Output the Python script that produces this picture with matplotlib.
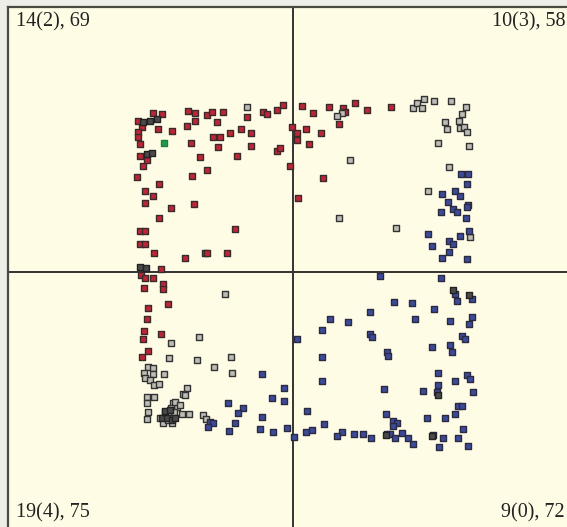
import matplotlib
matplotlib.use("Agg")
import matplotlib.pyplot as plt

W, H = 567, 527

# crosshair position (chart scale)
x_mid, y_mid = 293, 272

red_x = [188,195,207,212,223,263,267,277,283,153,162,138,142,158,172,187,195,217,247,138,138,140,191,213,220,230,241,251,251,218,277,280,292,297,297,140,147,143,200,237,207,192,290,137,159,145,153,145,194,171,159,298,235,140,145,140,145,154,185,205,207,227,161,
         302,313,329,343,345,355,367,391,306,321,339,309,323,
         141,145,153,144,163,163,148,168,147,144,143,161,148,142]
red_y = [111,113,115,112,112,112,114,110,105,113,114,121,127,129,131,126,121,122,117,132,137,144,143,137,137,133,129,133,146,147,151,148,127,133,140,156,160,166,157,156,170,176,166,177,184,191,196,203,204,208,218,198,229,231,231,244,244,253,258,253,253,253,269,
         106,113,107,108,112,103,110,107,129,133,124,144,178,
         275,278,278,288,284,289,308,304,319,331,339,334,351,357]

grey_x = [247,342,337,413,417,422,424,434,451,466,462,445,447,459,460,464,467,438,469,350,339,396,449,428,470,
          225,171,199,169,197,231,214,232,148,153,164,144,153,145,150,154,159,187,183,185,147,154,147,148,147,173,177,171,165,169,174,182,189,160,163,172,168,203,206,175,180]
grey_y = [107,113,116,108,103,108,99,101,101,107,114,122,129,121,128,127,132,143,146,160,218,228,167,191,237,
          294,343,337,358,360,357,367,373,367,368,374,373,374,378,380,385,384,388,394,395,397,397,403,412,419,403,407,408,412,414,412,414,414,418,423,423,420,415,419,402,405]

dark_x = [143,150,157,147,152,140,146,162,167,172,175,165,170,469,453,438,432,386]
dark_y = [122,121,119,154,153,267,268,418,418,420,418,411,410,295,290,395,436,435]

blue_x = [461,468,467,442,455,460,448,441,453,457,468,467,466,428,460,469,449,453,432,449,442,467,
          210,213,208,228,243,238,235,229,262,284,272,284,262,260,273,287,294,297,
          380,441,455,457,472,394,412,434,370,330,348,415,450,472,469,322,370,372,462,465,432,450,452,387,388,322,438,467,470,455,322,438,384,423,437,473,458,462,455,445,427,386,393,397,393,307,324,306,312,342,337,354,363,371,387,390,402,408,433,443,458,463,395,413,439,468]
blue_y = [174,174,184,194,191,196,202,212,209,212,205,207,218,234,236,231,241,244,246,252,258,259,
          422,423,427,403,408,413,423,431,374,388,398,401,417,429,432,428,437,339,
          276,278,294,301,299,302,303,309,312,319,322,319,321,317,324,330,334,337,336,339,347,345,352,352,356,357,373,375,379,381,381,385,389,391,392,392,406,406,414,418,418,414,421,423,426,411,424,432,430,432,436,434,434,438,434,434,433,438,435,438,438,429,438,444,447,446]

green_x = [164]
green_y = [143]

corner_labels = ["14(2), 69", "10(3), 58", "19(4), 75", "9(0), 72"]

fig = plt.figure(figsize=(W/100, H/100), dpi=100)
fig.patch.set_facecolor('#eeeee8')
ax = fig.add_axes([8/W, 0, (W-8)/W, (H-7)/H])
ax.set_facecolor('#fffce6')
ax.set_xlim(8, W)
ax.set_ylim(H, 7)
ax.set_xticks([])
ax.set_yticks([])
for s in ['right', 'bottom']:
    ax.spines[s].set_visible(False)
for s in ['left', 'top']:
    ax.spines[s].set_color('#4a4a40')
    ax.spines[s].set_linewidth(1.6)

ax.axvline(x_mid, color='#333330', lw=1.4, zorder=1)
ax.axhline(y_mid, color='#333330', lw=1.4, zorder=1)

ms = 22
lw = 1.0
ax.scatter(red_x, red_y, s=ms, marker='s', facecolor='#bc2636', edgecolor='#3a2a2a', linewidths=lw, zorder=3)
ax.scatter(grey_x, grey_y, s=ms, marker='s', facecolor='#bdbdb5', edgecolor='#333333', linewidths=lw, zorder=3)
ax.scatter(blue_x, blue_y, s=ms, marker='s', facecolor='#3c4a9a', edgecolor='#2a2a40', linewidths=lw, zorder=3)
ax.scatter(dark_x, dark_y, s=ms, marker='s', facecolor='#4a4a4a', edgecolor='#222222', linewidths=lw, zorder=3)
ax.scatter(green_x, green_y, s=ms, marker='s', facecolor='#1e9a4a', edgecolor='#1e8040', linewidths=lw, zorder=4)

fp = dict(family='Liberation Serif', size=14.5, color='#222222')
fig.text(16/W, 1 - 12/H, corner_labels[0], ha='left', va='top', **fp)
fig.text(565/W, 1 - 12/H, corner_labels[1], ha='right', va='top', **fp)
fig.text(16/W, 5/H, corner_labels[2], ha='left', va='bottom', **fp)
fig.text(565/W, 5/H, corner_labels[3], ha='right', va='bottom', **fp)

fig.savefig('out.png', dpi=100, facecolor=fig.get_facecolor())
